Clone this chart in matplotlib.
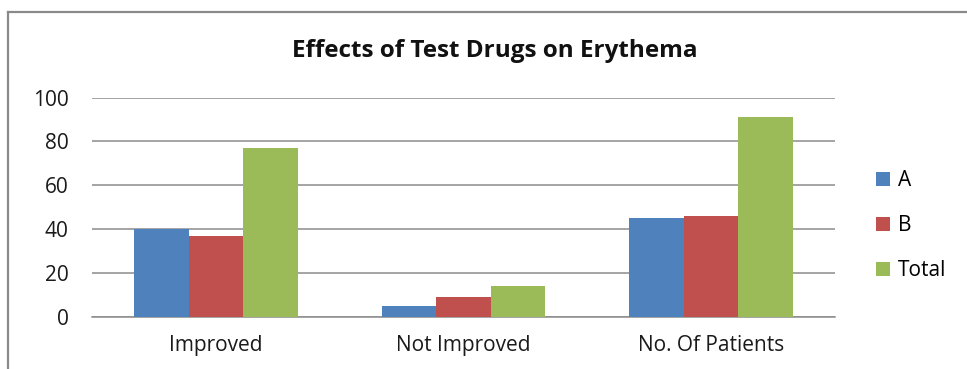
import numpy as np
import matplotlib.pyplot as plt
from matplotlib.lines import Line2D
from matplotlib.patches import Patch

categories = ["Improved", "Not Improved", "No. Of Patients"]
series_names = ["A", "B", "Total"]
values_a = [40, 5, 45]
values_b = [37, 9, 46]
values_total = [77, 14, 91]
y_ticks = [0, 20, 40, 60, 80, 100]

colors = ["#4F81BD", "#C0504D", "#9BBB59"]
grid_color = "#8C8C8C"
font = ["Open Sans", "DejaVu Sans"]
label_size = 15

W, H = 967, 369
fig = plt.figure(figsize=(W / 100, H / 100), dpi=100)
fig.patch.set_facecolor("white")

# plot area in pixel terms (left, right, top, bottom)
x0, x1, y_top, y_bot = 92, 835, 97.5, 317
ax = fig.add_axes([x0 / W, 1 - y_bot / H, (x1 - x0) / W, (y_bot - y_top) / H])

bar_w = 0.22
x = np.arange(len(categories))
for i, (vals, name) in enumerate(zip([values_a, values_b, values_total], series_names)):
    ax.bar(x + (i - 1) * bar_w, vals, width=bar_w, color=colors[i], label=name, zorder=3)

ax.set_xlim(-0.5, len(categories) - 0.5)
ax.set_ylim(0, 100)
ax.set_yticks(y_ticks)
ax.set_xticks(x)
ax.set_xticklabels(categories, fontfamily=font, fontsize=label_size, color="#1a1a1a")
ax.set_yticklabels([str(v) for v in y_ticks], fontfamily=font, fontsize=label_size, color="#1a1a1a")
ax.tick_params(axis="both", length=0)
ax.tick_params(axis="y", pad=17)
ax.tick_params(axis="x", pad=13)
ax.yaxis.grid(True, color=grid_color, linewidth=1.1, zorder=0)
for side in ["left", "right", "top"]:
    ax.spines[side].set_visible(False)
ax.spines["bottom"].set_color(grid_color)
ax.spines["bottom"].set_linewidth(1.1)

fig.text(495 / W, 1 - 51 / H, "Effects of Test Drugs on Erythema", ha="center", va="center",
         fontfamily=font, fontsize=17.5, fontweight="bold", color="#111111")

handles = [Patch(facecolor=c, edgecolor="none") for c in colors]
fig.legend(handles, series_names, loc="upper left", bbox_to_anchor=(876 / W, 1 - 170 / H),
           frameon=False, prop={"family": font, "size": label_size},
           handlelength=0.67, handleheight=0.67, handletextpad=0.4, labelspacing=1.16,
           borderaxespad=0, borderpad=0)

# outer chart frame (clipped at right and bottom)
fig.add_artist(Line2D([8 / W, 8 / W], [0, 1 - 12 / H], color="#8a8a8a", linewidth=1.6))
fig.add_artist(Line2D([8 / W, 1], [1 - 12 / H, 1 - 12 / H], color="#8a8a8a", linewidth=1.6))

fig.savefig("out.png", dpi=100)
